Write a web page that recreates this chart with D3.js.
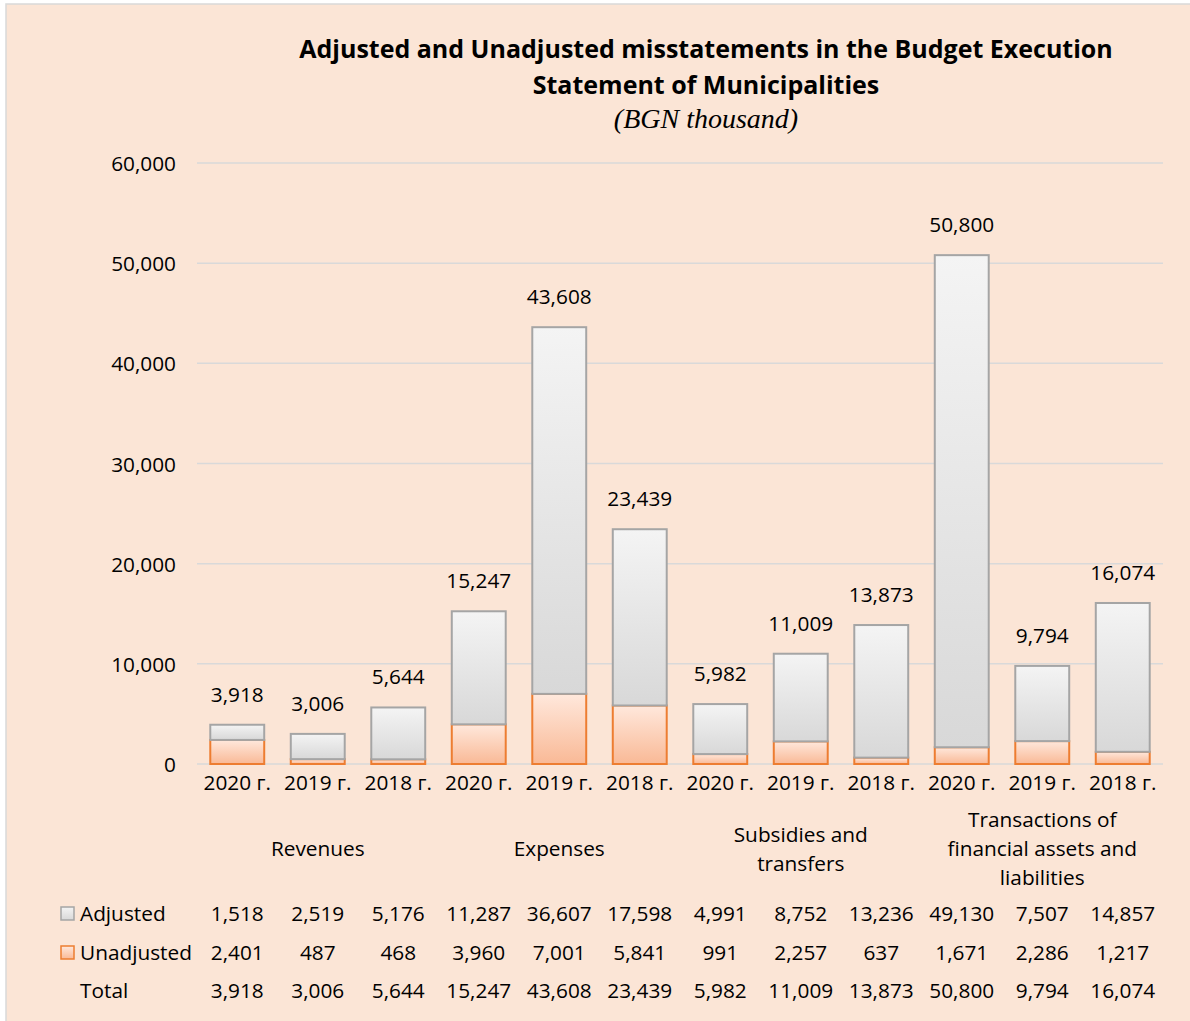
<!DOCTYPE html>
<html>
<head>
<meta charset="utf-8">
<script src="https://cdn.jsdelivr.net/npm/d3@7"></script>
<style>
  body { margin: 0; background: #fff; }
  svg text { font-family: "Open Sans", "Noto Sans", sans-serif; fill: #000; }
</style>
</head>
<body>
<div id="chart"></div>
<script>
// data
var years = ["2020 г.", "2019 г.", "2018 г."];
var groups = [["Revenues"], ["Expenses"], ["Subsidies and", "transfers"], ["Transactions of", "financial assets and", "liabilities"]];
var adjusted   = [1518, 2519, 5176, 11287, 36607, 17598, 4991, 8752, 13236, 49130, 7507, 14857];
var unadjusted = [2401, 487, 468, 3960, 7001, 5841, 991, 2257, 637, 1671, 2286, 1217];
var totals     = [3918, 3006, 5644, 15247, 43608, 23439, 5982, 11009, 13873, 50800, 9794, 16074];
var yTicks = [0, 10000, 20000, 30000, 40000, 50000, 60000];
var seriesNames = ["Adjusted", "Unadjusted"];

var W = 1190, H = 1021;
var x0 = 197, x1 = 1163, yBase = 764, yTop = 163;
var fs = "20.8px";
var fmt = d3.format(",");

var svg = d3.select("#chart").append("svg").attr("width", W).attr("height", H);

// gradients for the bars
var defs = svg.append("defs");
function grad(id, c1, c2) {
  var g = defs.append("linearGradient").attr("id", id).attr("x1", 0).attr("y1", 0).attr("x2", 0).attr("y2", 1);
  g.append("stop").attr("offset", "0%").attr("stop-color", c1);
  g.append("stop").attr("offset", "100%").attr("stop-color", c2);
}
grad("gAdj", "#F4F4F4", "#D8D8D8");
grad("gUnadj", "#FFE8DC", "#F9B996");

// background frame
svg.append("rect").attr("x", 6).attr("y", 4).attr("width", W).attr("height", H)
  .style("fill", "#FBE5D6").style("stroke", "#D9D9D9").style("stroke-width", 1.5);

// title
var tx = 706;
svg.append("text").attr("x", tx).attr("y", 58).attr("text-anchor", "middle")
  .style("font-weight", "bold").style("font-size", "25px")
  .text("Adjusted and Unadjusted misstatements in the Budget Execution");
svg.append("text").attr("x", tx).attr("y", 94).attr("text-anchor", "middle")
  .style("font-weight", "bold").style("font-size", "25px")
  .text("Statement of Municipalities");
svg.append("text").attr("x", tx).attr("y", 128).attr("text-anchor", "middle")
  .style("font-family", "'Liberation Serif', 'DejaVu Serif', serif").style("font-style", "italic").style("font-size", "28px")
  .text("(BGN thousand)");

var idx = d3.range(adjusted.length);
var x = d3.scaleBand().domain(idx).range([x0, x1]).paddingInner(0.33).paddingOuter(0.165);
var y = d3.scaleLinear().domain([0, 60000]).range([yBase, yTop]);

// gridlines
svg.append("g").selectAll("line").data(yTicks).enter().append("line")
  .attr("x1", x0).attr("x2", x1)
  .attr("y1", function(d) { return y(d); }).attr("y2", function(d) { return y(d); })
  .style("stroke", "#D9D9D9").style("stroke-width", 1.5);

// y axis labels
svg.append("g").selectAll("text").data(yTicks).enter().append("text")
  .attr("x", 176).attr("y", function(d) { return y(d) + 8; })
  .attr("text-anchor", "end").style("font-size", fs)
  .text(function(d) { return fmt(d); });

// stacked bars: unadjusted at the bottom, adjusted on top
var bars = svg.append("g");
bars.selectAll(".unadj").data(idx).enter().append("rect")
  .attr("class", "unadj")
  .attr("x", function(i) { return x(i); })
  .attr("width", x.bandwidth())
  .attr("y", function(i) { return y(unadjusted[i]); })
  .attr("height", function(i) { return y(0) - y(unadjusted[i]); })
  .style("fill", "url(#gUnadj)").style("stroke", "#ED7D31").style("stroke-width", 2);
bars.selectAll(".adj").data(idx).enter().append("rect")
  .attr("class", "adj")
  .attr("x", function(i) { return x(i); })
  .attr("width", x.bandwidth())
  .attr("y", function(i) { return y(unadjusted[i] + adjusted[i]); })
  .attr("height", function(i) { return y(unadjusted[i]) - y(unadjusted[i] + adjusted[i]); })
  .style("fill", "url(#gAdj)").style("stroke", "#A5A5A5").style("stroke-width", 2);

// total labels
svg.append("g").selectAll("text").data(idx).enter().append("text")
  .attr("x", function(i) { return x(i) + x.bandwidth() / 2; })
  .attr("y", function(i) { return y(totals[i]) - 23; })
  .attr("text-anchor", "middle").style("font-size", fs)
  .text(function(i) { return fmt(totals[i]); });

// year tick labels
svg.append("g").selectAll("text").data(idx).enter().append("text")
  .attr("x", function(i) { return x(i) + x.bandwidth() / 2; })
  .attr("y", 790)
  .attr("text-anchor", "middle").style("font-size", fs)
  .text(function(i) { return years[i % 3]; });

// group labels
groups.forEach(function(lines, gi) {
  var cx = x(gi * 3 + 1) + x.bandwidth() / 2;
  var lh = 29;
  var startY = 856 - (lines.length - 1) * lh / 2;
  var t = svg.append("text").attr("text-anchor", "middle").style("font-size", fs);
  lines.forEach(function(l, li) {
    t.append("tspan").attr("x", cx).attr("y", startY + li * lh).text(l);
  });
});

// data table with legend keys
var rows = [
  { name: seriesNames[0], vals: adjusted, fill: "url(#gAdj)", stroke: "#A5A5A5" },
  { name: seriesNames[1], vals: unadjusted, fill: "url(#gUnadj)", stroke: "#ED7D31" },
  { name: "Total", vals: totals, fill: null }
];
var rowY = [921, 960, 998];
rows.forEach(function(r, ri) {
  var g = svg.append("g");
  if (r.fill) {
    g.append("rect").attr("x", 61).attr("y", rowY[ri] - 14).attr("width", 13).attr("height", 13)
      .style("fill", r.fill).style("stroke", r.stroke).style("stroke-width", 1.5);
  }
  g.append("text").attr("x", 80).attr("y", rowY[ri]).style("font-size", fs).text(r.name);
  g.selectAll(".v").data(idx).enter().append("text")
    .attr("x", function(i) { return x(i) + x.bandwidth() / 2; })
    .attr("y", rowY[ri])
    .attr("text-anchor", "middle").style("font-size", fs)
    .text(function(i) { return fmt(r.vals[i]); });
});
</script>
</body>
</html>
